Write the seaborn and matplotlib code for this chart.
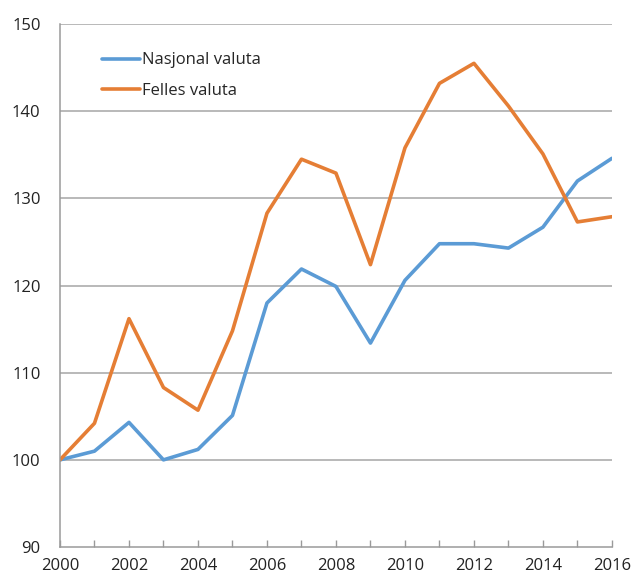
import pandas as pd
import seaborn as sns
import matplotlib.pyplot as plt
from matplotlib.ticker import MultipleLocator

# data (index, 2000 = 100)
years = list(range(2000, 2017))
nasjonal = [100.0, 101.0, 104.3, 100.0, 101.2, 105.1, 118.0, 121.9, 119.9,
            113.4, 120.6, 124.8, 124.8, 124.3, 126.7, 132.0, 134.6]
felles = [100.0, 104.2, 116.2, 108.3, 105.7, 114.8, 128.3, 134.5, 132.9,
          122.4, 135.8, 143.2, 145.5, 140.6, 135.1, 127.3, 127.9]
series_names = ["Nasjonal valuta", "Felles valuta"]
colors = ["#5B9BD5", "#E57E35"]

df = pd.DataFrame({
    "year": years * 2,
    "value": nasjonal + felles,
    "serie": [series_names[0]] * len(years) + [series_names[1]] * len(years),
})

sns.set_style("white")
plt.rcParams["font.family"] = ["Open Sans", "DejaVu Sans"]

fig = plt.figure(figsize=(6.34, 5.74), dpi=100)
ax = fig.add_axes([0.0946, 0.047, 0.8706, 0.911])

sns.lineplot(data=df, x="year", y="value", hue="serie", palette=colors,
             linewidth=2.6, ax=ax)

ax.set_xlim(2000, 2016)
ax.set_ylim(90, 150)
ax.set_xlabel("")
ax.set_ylabel("")

ax.xaxis.set_major_locator(MultipleLocator(2))
ax.xaxis.set_minor_locator(MultipleLocator(1))
ax.yaxis.set_major_locator(MultipleLocator(10))

ax.tick_params(axis="x", which="both", bottom=True, direction="in", length=5,
               width=1, color="#9a9a9a", labelsize=12, pad=8,
               labelcolor="#222222")
ax.tick_params(axis="y", length=0, labelsize=12, pad=14, labelcolor="#222222")

for v in range(100, 151, 10):
    ax.axhline(v, color="#a6a6a6", linewidth=1.1, zorder=0)

for side in ["top", "right"]:
    ax.spines[side].set_visible(False)
for side in ["left", "bottom"]:
    ax.spines[side].set_color("#9a9a9a")
    ax.spines[side].set_linewidth(1.1)

leg = ax.legend(loc="upper left", bbox_to_anchor=(0.076, 0.946), frameon=False,
                borderaxespad=0, borderpad=0,
                fontsize=12, handlelength=2.3, handletextpad=0.1,
                labelspacing=0.85)
for line in leg.get_lines():
    line.set_linewidth(2.6)

fig.savefig("out.png", dpi=100)
